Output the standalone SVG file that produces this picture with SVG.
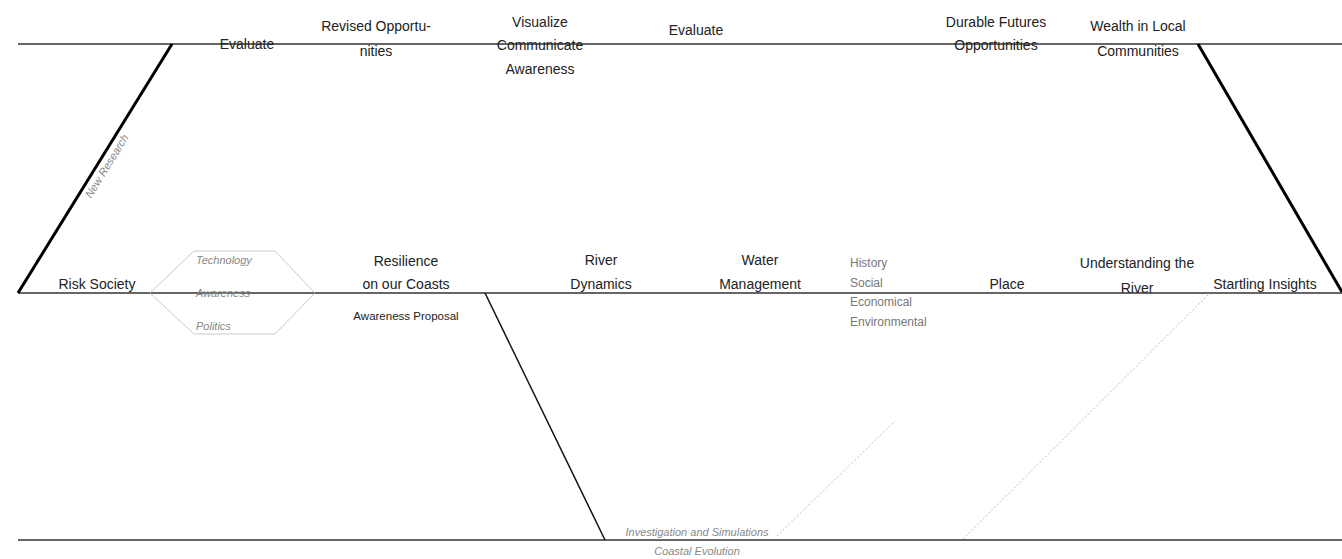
<svg xmlns="http://www.w3.org/2000/svg" width="1342" height="559" viewBox="0 0 1342 559">
<style>
.main{font-family:"Liberation Sans",Arial,sans-serif;font-size:14px;fill:#222;text-anchor:middle}
.small{font-family:"Liberation Sans",Arial,sans-serif;font-size:11.5px;fill:#222;text-anchor:middle}
.gray{font-family:"Liberation Sans",Arial,sans-serif;font-size:12px;fill:#777}
.grayi{font-family:"Liberation Sans",Arial,sans-serif;font-size:11px;fill:#888;font-style:italic}
.axis{stroke:#333;stroke-width:1.5;fill:none}
.thick{stroke:#000;stroke-width:3;fill:none}
.thin{stroke:#111;stroke-width:1.5;fill:none}
.dot{stroke:#aaa;stroke-width:0.8;stroke-dasharray:2 2;fill:none}
.hex{stroke:#bbb;stroke-width:0.8;fill:none}
</style>
<rect width="1342" height="559" fill="#fff"/>
<g id="connectors">
<line class="axis" x1="18" y1="44" x2="1342" y2="44"/>
<line class="axis" x1="18" y1="293" x2="1342" y2="293"/>
<line class="axis" x1="18" y1="540" x2="1342" y2="540"/>
<line class="thick" x1="18" y1="293" x2="172" y2="44"/>
<line class="thick" x1="1198" y1="44" x2="1342" y2="292"/>
<line class="thin" x1="485" y1="293" x2="605" y2="540"/>
<line class="dot" x1="963" y1="539" x2="1210" y2="293"/>
<line class="dot" x1="777" y1="536" x2="895" y2="421"/>
</g>
<g id="hexagon">
<polygon class="hex" points="150,293 194,251 275,251 315,293 275,334 194,334"/>
</g>
<g id="new-research">
<text class="grayi" transform="translate(110,168) rotate(-58.3)" text-anchor="middle">New Research</text>
</g>
<g id="evaluate-1"><text class="main" x="247" y="49">Evaluate</text></g>
<g id="revised"><text class="main" x="376" y="31">Revised Opportu-</text><text class="main" x="376" y="56">nities</text></g>
<g id="visualize"><text class="main" x="540" y="27">Visualize</text><text class="main" x="540" y="50">Communicate</text><text class="main" x="540" y="74">Awareness</text></g>
<g id="evaluate-2"><text class="main" x="696" y="35">Evaluate</text></g>
<g id="durable"><text class="main" x="996" y="27">Durable Futures</text><text class="main" x="996" y="50">Opportunities</text></g>
<g id="wealth"><text class="main" x="1138" y="31">Wealth in Local</text><text class="main" x="1138" y="56">Communities</text></g>
<g id="risk-society"><text class="main" x="97" y="289">Risk Society</text></g>
<g id="tap">
<text class="grayi" x="196" y="264">Technology</text>
<text class="grayi" x="196" y="297">Awareness</text>
<text class="grayi" x="196" y="330">Politics</text>
</g>
<g id="resilience"><text class="main" x="406" y="266">Resilience</text><text class="main" x="406" y="289">on our Coasts</text><text class="small" x="406" y="320">Awareness Proposal</text></g>
<g id="river-dynamics"><text class="main" x="601" y="265">River</text><text class="main" x="601" y="289">Dynamics</text></g>
<g id="water"><text class="main" x="760" y="265">Water</text><text class="main" x="760" y="289">Management</text></g>
<g id="factors">
<text class="gray" x="850" y="267">History</text>
<text class="gray" x="850" y="287">Social</text>
<text class="gray" x="850" y="306">Economical</text>
<text class="gray" x="850" y="326">Environmental</text>
</g>
<g id="place"><text class="main" x="1007" y="289">Place</text></g>
<g id="understanding"><text class="main" x="1137" y="268">Understanding the</text><text class="main" x="1137" y="293">River</text></g>
<g id="startling"><text class="main" x="1265" y="289">Startling Insights</text></g>
<g id="investigation"><text class="grayi" x="697" y="536" text-anchor="middle">Investigation and Simulations</text><text class="grayi" x="697" y="555" text-anchor="middle">Coastal Evolution</text></g>
</svg>
